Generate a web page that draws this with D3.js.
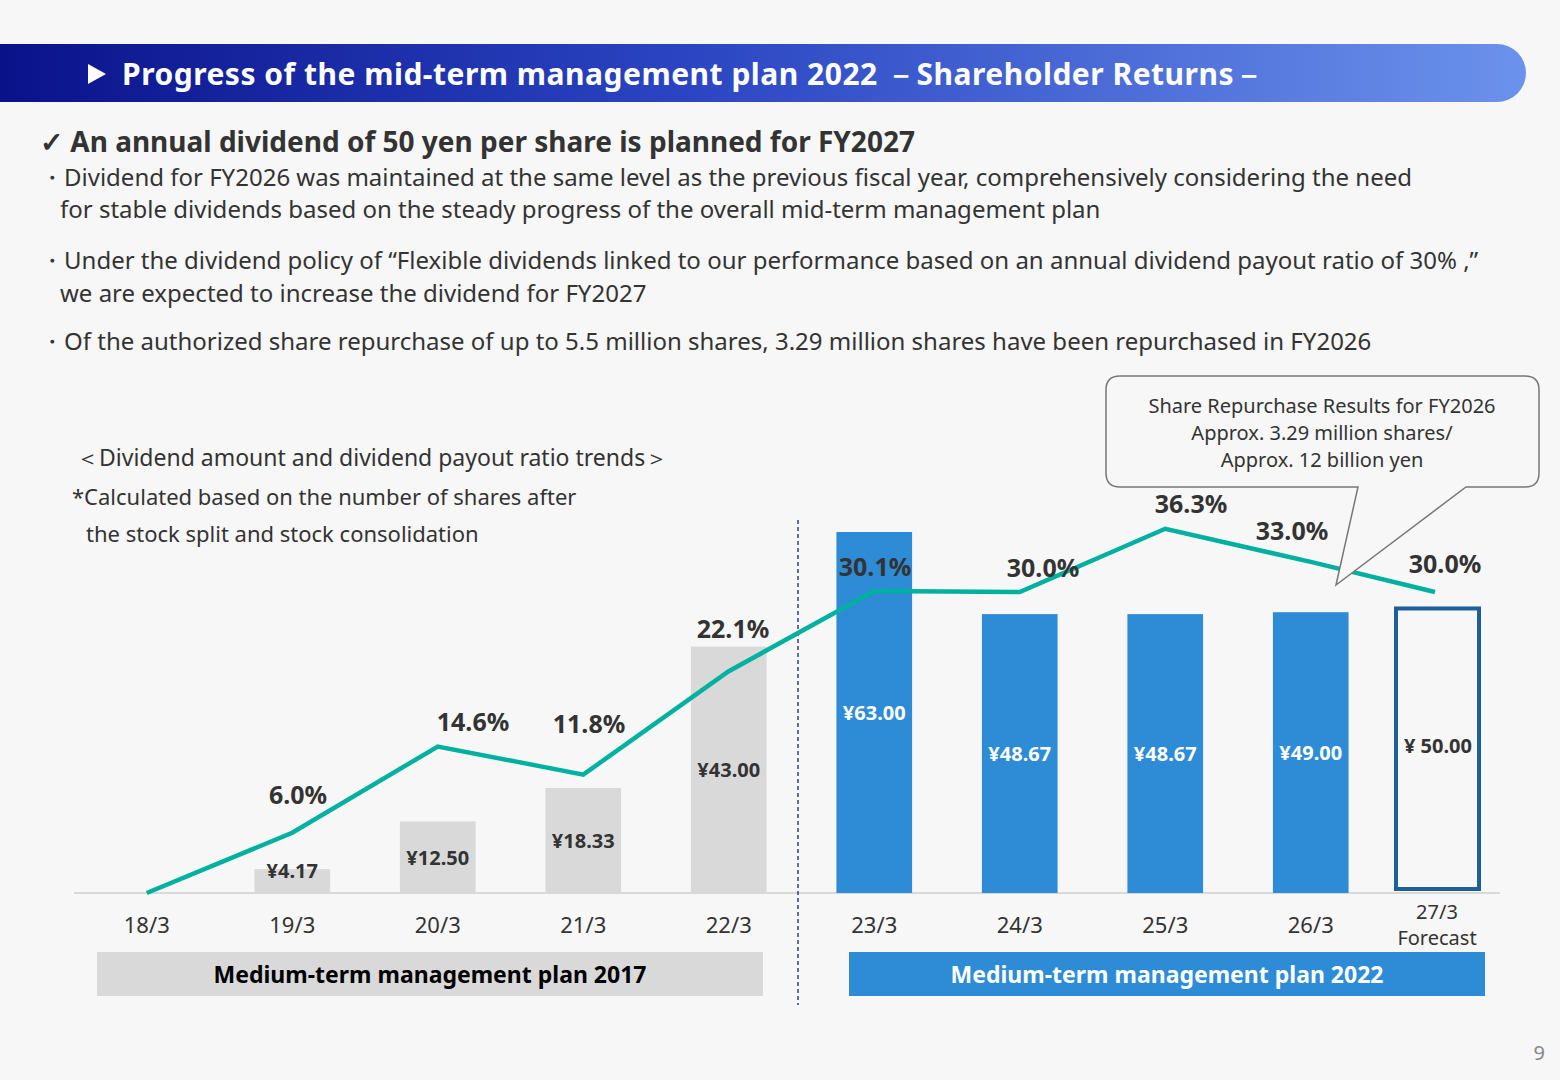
<!DOCTYPE html><html><head><meta charset="utf-8"><script src="https://cdn.jsdelivr.net/npm/d3@7"></script>
<style>body{margin:0;background:#f7f7f7;font-family:"Noto Sans",sans-serif}</style></head><body><svg id="c" width="1560" height="1080"></svg><script>
const categories=["18/3","19/3","20/3","21/3","22/3","23/3","24/3","25/3","26/3","27/3"];
const dividends=[null,4.17,12.50,18.33,43.00,63.00,48.67,48.67,49.00,50.00];
const payout=[0,6.0,14.6,11.8,22.1,30.1,30.0,36.3,33.0,30.0];
const divLabels=["","¥4.17","¥12.50","¥18.33","¥43.00","¥63.00","¥48.67","¥48.67","¥49.00","¥ 50.00"];
const svg=d3.select("#c");
svg.append("rect").attr("width",1560).attr("height",1080).attr("fill","#f7f7f7");
const g=svg.append("defs").append("linearGradient").attr("id","hg");
g.append("stop").attr("offset","0").attr("stop-color","#0a128a");
g.append("stop").attr("offset","0.45").attr("stop-color","#2b45c2");
g.append("stop").attr("offset","1").attr("stop-color","#6b92ec");
svg.append("path").attr("d","M0,44 H1497 A29,29 0 0 1 1497,102 H0 Z").attr("fill","url(#hg)");
svg.append("path").attr("d","M88,64 L106,74 L88,84 Z").attr("fill","#fff");
svg.append("text").attr("x",122).attr("y",85).attr("fill","#fff").attr("font-size",30).attr("font-weight","bold").attr("letter-spacing",0.5).text("Progress of the mid-term management plan 2022 －Shareholder Returns－");
const T=(x,y,s,t,o={})=>{const e=svg.append("text").attr("x",x).attr("y",y).attr("font-size",s).attr("fill",o.fill||"#333").text(t);if(o.w)e.attr("font-weight",o.w);if(o.a)e.attr("text-anchor",o.a);return e;};
T(40,152,28,"✓ An annual dividend of 50 yen per share is planned for FY2027",{w:"bold"});
T(40,186,24,"・Dividend for FY2026 was maintained at the same level as the previous fiscal year, comprehensively considering the need");
T(60,218,24,"for stable dividends based on the steady progress of the overall mid-term management plan");
T(40,269,24,"・Under the dividend policy of “Flexible dividends linked to our performance based on an annual dividend payout ratio of 30% ,”");
T(60,302,24,"we are expected to increase the dividend for FY2027");
T(40,350,24,"・Of the authorized share repurchase of up to 5.5 million shares, 3.29 million shares have been repurchased in FY2026");
T(76,466,23,"＜Dividend amount and dividend payout ratio trends＞");
T(72,505,22,"*Calculated based on the number of shares after");
T(86,542,22,"the stock split and stock consolidation");
const x=d3.scaleBand().domain(categories).range([74,1529]).paddingInner(0.48).paddingOuter(0.24);
const yB=d3.scaleLinear().domain([0,63]).range([893,532]);
const yP=d3.scaleLinear().domain([0,30.1]).range([893,591]);
const cx=(c,i)=>i===9?x(c)+x.bandwidth()/2-20:x(c)+x.bandwidth()/2;
svg.append("line").attr("x1",74).attr("x2",1500).attr("y1",893).attr("y2",893).attr("stroke","#d9d9d9").attr("stroke-width",2);
categories.forEach((c,i)=>{const v=dividends[i];if(v==null)return;
 const bx=cx(c,i)-x.bandwidth()/2;
 if(i===9){svg.append("rect").attr("x",1396).attr("y",yB(v)+2).attr("width",83).attr("height",893-yB(v)-6).attr("fill","none").attr("stroke","#1f5f99").attr("stroke-width",4);}
 else svg.append("rect").attr("x",bx).attr("y",yB(v)).attr("width",x.bandwidth()).attr("height",893-yB(v)).attr("fill",i<5?"#d9d9d9":"#2e8bd6");
});
const ly=[878,865,848,777,720,761,761,760,753];
categories.forEach((c,i)=>{if(!divLabels[i])return;T(i===9?1438:cx(c,i),ly[i-1],20,divLabels[i],{w:"bold",a:"middle",fill:i<5||i===9?"#333":"#fff"});});
svg.append("line").attr("x1",798).attr("x2",798).attr("y1",520).attr("y2",1005).attr("stroke","#2b3f8c").attr("stroke-width",1.5).attr("stroke-dasharray","4,3");
const pts=categories.map((c,i)=>[i===9?1435:cx(c,i),yP(payout[i])]);
svg.append("path").attr("d",d3.line()(pts)).attr("fill","none").attr("stroke","#00b0a0").attr("stroke-width",4.5);
const pl=[null,[298,804],[473,731],[589,733],[733,638],[875,576],[1043,577],[1191,513],[1292,540],[1445,573]];
payout.forEach((p,i)=>{if(!pl[i])return;T(pl[i][0],pl[i][1],25,p.toFixed(1)+"%",{w:"bold",a:"middle"});});
categories.forEach((c,i)=>{if(i===9){T(1437,919,20,"27/3",{a:"middle"});T(1437,945,20,"Forecast",{a:"middle"});}else T(cx(c,i),933,22,c,{a:"middle"});});
svg.append("rect").attr("x",97).attr("y",952).attr("width",666).attr("height",44).attr("fill","#d9d9d9");
T(430,983,23,"Medium-term management plan 2017",{w:"bold",a:"middle",fill:"#000"});
svg.append("rect").attr("x",849).attr("y",952).attr("width",636).attr("height",44).attr("fill","#2e8bd6");
T(1167,983,23,"Medium-term management plan 2022",{w:"bold",a:"middle",fill:"#fff"});
svg.append("path").attr("d","M1120,376 H1525 Q1539,376 1539,390 V473 Q1539,487 1525,487 H1466 L1336,585 L1358,487 H1120 Q1106,487 1106,473 V390 Q1106,376 1120,376 Z").attr("fill","#f7f7f7").attr("stroke","#777").attr("stroke-width",1.5);
T(1322,413,20,"Share Repurchase Results for FY2026",{a:"middle"});
T(1322,440,20,"Approx. 3.29 million shares/",{a:"middle"});
T(1322,467,20,"Approx. 12 billion yen",{a:"middle"});
T(1545,1060,20,"9",{a:"end",fill:"#888"});
</script></body></html>
